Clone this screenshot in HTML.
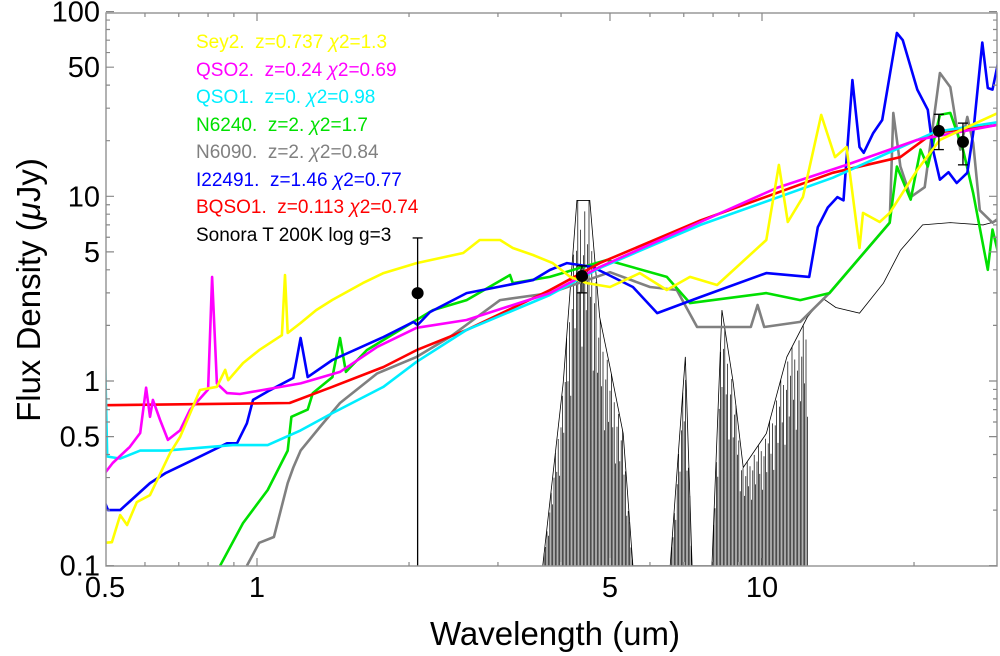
<!DOCTYPE html>
<html><head><meta charset="utf-8"><style>
body{margin:0;background:#fff;}
svg{display:block;font-family:"Liberation Sans",sans-serif;}
</style></head><body>
<svg id="chart" width="1000" height="656"></svg>
<script>
const xTicks=[0.5,1,5,10];
const yTicks=[0.1,0.5,1,5,10,50,100];
const seyLam=[0.5,0.516,0.536,0.553,0.578,0.614,0.673,0.704,0.771,0.833,0.865,0.877,0.938,1.01,1.12,1.136,1.15,1.22,1.31,1.41,1.62,1.78,2.07,2.56,2.76,3.03,3.21,3.52,3.85,4.17,4.5,5.0,5.73,6.48,7.2,8.15,10.2,10.8,11.25,12.05,13.1,13.95,14.7,15.6,15.85,17.1,17.9,20.3,22.5,25.5,29.6];
const seyFlux=[0.133,0.134,0.188,0.166,0.221,0.241,0.407,0.497,0.894,0.93,1.15,1.01,1.25,1.47,1.77,3.75,1.82,2.06,2.42,2.75,3.39,3.84,4.35,4.93,5.8,5.8,5.25,4.81,4.35,3.66,3.39,3.23,3.84,3.11,3.66,3.31,5.8,14.8,7.26,9.9,27.6,16.3,18.5,5.25,8.13,7.26,8.13,13.9,20.2,23.7,28.6];
const qso2Lam=[0.5,0.518,0.56,0.587,0.603,0.614,0.622,0.643,0.666,0.704,0.737,0.8,0.815,0.833,0.872,0.925,1.22,1.46,1.73,2.07,2.6,3.8,4.77,7.55,10.7,14.7,20.3,29.6];
const qso2Flux=[0.318,0.36,0.44,0.523,0.92,0.64,0.79,0.615,0.48,0.54,0.70,0.9,3.66,0.97,0.86,0.85,0.97,1.12,1.53,1.94,2.14,2.99,4.14,7.26,11.1,14.8,20.2,24.5];
const bqsoLam=[0.5,1.16,1.41,1.78,2.07,2.6,3.8,4.77,7.55,13.8,18.8,21.8,29.6];
const bqsoFlux=[0.74,0.76,0.93,1.19,1.47,1.89,3.1,4.35,7.4,13.4,16.3,22,24.4];
const qso1Lam=[0.5,0.505,0.536,0.587,0.66,0.896,1.05,1.22,1.41,1.78,2.07,2.6,3.8,4.77,7.55,13.8,22,29.6];
const qso1Flux=[1.38,0.39,0.38,0.42,0.42,0.45,0.45,0.54,0.67,0.93,1.27,1.89,2.92,4.09,7.0,12.6,22.3,25.3];
const iLam=[0.5,0.507,0.536,0.614,0.66,0.747,0.872,0.913,0.955,0.982,1.06,1.18,1.22,1.26,1.41,1.78,2.04,2.08,2.2,2.6,3.52,3.8,4.11,4.62,5.55,6.2,7.55,10.2,12.4,12.9,13.5,14.1,14.5,15.1,15.6,15.9,16.6,17.3,18.5,19.0,20.3,21.3,21.8,22.5,23.4,24.3,25.5,26.2,27.3,28.0,28.6,29.6];
const iFlux=[0.219,0.20,0.20,0.28,0.318,0.374,0.46,0.46,0.59,0.79,0.89,1.04,1.71,1.05,1.30,1.73,2.09,2.01,2.36,2.99,3.52,3.99,4.35,4.14,3.23,2.33,2.85,3.84,3.66,6.8,8.7,9.9,9.5,42.6,18.5,17.2,22.0,25.9,76.6,70,37.8,29.4,17.9,12.3,13.5,11.8,13.4,22.0,68,38.6,37.8,59.5];
const n6240Lam=[0.845,0.938,1.05,1.15,1.17,1.26,1.29,1.41,1.46,1.5,1.65,1.92,2.23,2.6,3.17,3.21,3.8,4.42,4.93,6.48,7.2,10.2,11.9,13.6,17.9,18.5,19.7,20.6,21.3,22.5,23.6,25.0,26.2,28.0,28.6,29.6];
const n6240Flux=[0.1,0.17,0.257,0.42,0.64,0.70,0.86,1.05,1.71,1.12,1.47,1.89,2.42,2.74,3.75,3.39,3.66,4.14,4.52,3.66,2.64,2.99,2.74,2.99,7.2,14.5,9.6,17.9,14.5,27.6,28.3,17.9,10.4,4.0,6.6,4.5];
const n6090Lam=[0.955,1.01,1.08,1.15,1.18,1.22,1.33,1.46,1.73,2.07,2.41,3.03,3.8,5.0,6.0,6.78,7.44,9.5,9.8,10.1,11.9,13.6,17.9,18.2,18.8,19.7,21.0,22.5,23.6,24.7,25.5,26.2,27.0,28.6,29.6];
const n6090Flux=[0.1,0.133,0.143,0.28,0.34,0.42,0.56,0.76,1.10,1.35,1.73,2.74,2.99,3.88,3.23,3.11,1.96,1.96,2.58,1.96,2.09,2.99,7.2,28.3,14.5,9.9,11.2,46.5,39.0,17.9,26.9,19.4,8.4,7.2,7.7];
const sonLam=[3.68,4.04,4.3,4.56,4.77,5.0,5.31,5.55,6.58,7.05,7.27,7.96,8.33,8.77,9.18,10.2,11.2,12.3,13.2,14.0,15.6,17.4,18.8,20.8,23.6,27.4,29.6];
const sonFlux=[0.1,0.98,9.5,9.5,2.22,1.19,0.52,0.1,0.1,1.35,0.1,0.1,2.42,0.98,0.34,0.52,1.35,2.22,2.8,2.5,2.33,3.39,5.1,7.0,7.2,7.0,7.4];
const ptLam=[2.08,4.4,22.4,25.0];
const ptFlux=[2.99,3.7,22.6,19.7];
const ptHi=[5.95,4.2,27.8,24.9];
const ptLo=[0.05,3.0,17.9,14.8];

const NS='http://www.w3.org/2000/svg';
const svg=document.getElementById('chart');
const L=106,R=997,T=13,B=566;
const X=v=>257+505*Math.log10(v);
const Y=v=>381-184.7*Math.log10(v);
function mk(tag,attrs,parent){const e=document.createElementNS(NS,tag);for(const k in attrs)e.setAttribute(k,attrs[k]);(parent||svg).appendChild(e);return e;}
const defs=mk('defs',{});
const cp=mk('clipPath',{id:'clip'},defs);mk('rect',{x:L,y:T,width:R-L,height:B-T},cp);
const plot=mk('g',{'clip-path':'url(#clip)'});



const sg=mk('g',{},plot);


const sp=sonLam.map((l,i)=>[X(l),Y(sonFlux[i])]);
function envY(px){for(let i=0;i<sp.length-1;i++){if(px>=sp[i][0]&&px<=sp[i+1][0]){const t=(px-sp[i][0])/(sp[i+1][0]-sp[i][0]);return sp[i][1]+t*(sp[i+1][1]-sp[i][1]);}}return null;}
let d='';let k=0;
const fr=[0,0.25,0.08,0.4,0.15,0.03,0.3,0.12];
for(let px=sp[0][0];px<=X(12.3);px+=1.4){const ey=envY(px);if(ey===null||ey>=B-1)continue;const top=ey+(B-ey)*fr[k%fr.length];d+=`M${px.toFixed(1)} ${B} L${px.toFixed(1)} ${top.toFixed(1)} `;k++;}
mk('path',{d:d,stroke:'#000','stroke-width':0.7,fill:'none'},sg);
mk('polyline',{points:sp.map(p=>p.join(',')).join(' '),fill:'none',stroke:'#000','stroke-width':0.8},sg);

const series=[
['series-n6090',n6090Lam,n6090Flux,'#808080'],
['series-n6240',n6240Lam,n6240Flux,'#00e000'],
['series-i22491',iLam,iFlux,'#0000ff'],
['series-bqso1',bqsoLam,bqsoFlux,'#ff0000'],
['series-qso1',qso1Lam,qso1Flux,'#00eeff'],
['series-qso2',qso2Lam,qso2Flux,'#ff00ff'],
['series-sey2',seyLam,seyFlux,'#ffff00']];
series.forEach(s=>{
 const pl=mk('polyline',{points:s[1].map((l,i)=>X(l).toFixed(1)+','+Y(s[2][i]).toFixed(1)).join(' '),fill:'none',stroke:s[3],'stroke-width':2.6,'stroke-linejoin':'round'},plot);
 
 
});
ptLam.forEach((l,i)=>{
 const g=mk('g',{},plot);
 
 
 const x=X(l);
 mk('line',{x1:x,x2:x,y1:Y(ptHi[i]),y2:Y(ptLo[i]),stroke:'#000','stroke-width':1.3},g);
 mk('line',{x1:x-5,x2:x+5,y1:Y(ptHi[i]),y2:Y(ptHi[i]),stroke:'#000','stroke-width':1.3},g);
 mk('line',{x1:x-5,x2:x+5,y1:Y(ptLo[i]),y2:Y(ptLo[i]),stroke:'#000','stroke-width':1.3},g);
 mk('circle',{cx:x,cy:Y(ptFlux[i]),r:6,fill:'#000'},g);
});

const frame=mk('rect',{x:L,y:T,width:R-L,height:B-T,fill:'none',stroke:'#999','stroke-width':1.5});


let td='';
for(let e=-1;e<=1;e++)for(let m=1;m<10;m++){const v=m*Math.pow(10,e);const x=X(v);if(x<L||x>R)continue;const len=(m===1||m===5)?8:4;td+=`M${x} ${B}v${-len}M${x} ${T}v${len}`;}
for(let e=-1;e<2;e++)for(let m=1;m<10;m++){const v=m*Math.pow(10,e);const y=Y(v);const len=(m===1||m===5)?8:4;td+=`M${L} ${y}h${len}M${R} ${y}h${-len}`;}
td+=`M${L} ${Y(100)}h8M${R} ${Y(100)}h-8`;
mk('path',{d:td,stroke:'#888','stroke-width':1.2,fill:'none'});
xTicks.forEach(v=>{const t=mk('text',{x:X(v),y:597,'font-size':29,'text-anchor':'middle'});t.textContent=String(v);
 
 });
yTicks.forEach(v=>{const t=mk('text',{x:100,y:Y(v)+10,'font-size':29,'text-anchor':'end'});t.textContent=String(v);
 
 });
const xt=mk('text',{x:555,y:645,'font-size':33,'text-anchor':'middle'});xt.textContent='Wavelength (um)';


const yt=mk('text',{x:0,y:0,'font-size':33,'text-anchor':'middle',transform:'translate(40,290) rotate(-90)'});
yt.innerHTML='Flux Density (<tspan font-style="italic">μ</tspan>Jy)';


</script>
<svg style="position:absolute;left:0;top:0" width="1000" height="656" font-family="Liberation Sans, sans-serif" font-size="19">
<text x="196" y="48" fill="#ffff00">Sey2.&#160; z=0.737 <tspan font-style="italic">χ</tspan>2=1.3</text>
<text x="196" y="76" fill="#ff00ff">QSO2.&#160; z=0.24 <tspan font-style="italic">χ</tspan>2=0.69</text>
<text x="196" y="103" fill="#00eeff">QSO1.&#160; z=0. <tspan font-style="italic">χ</tspan>2=0.98</text>
<text x="196" y="131" fill="#00e000">N6240.&#160; z=2. <tspan font-style="italic">χ</tspan>2=1.7</text>
<text x="196" y="158" fill="#808080">N6090.&#160; z=2. <tspan font-style="italic">χ</tspan>2=0.84</text>
<text x="196" y="186" fill="#0000ff">I22491.&#160; z=1.46 <tspan font-style="italic">χ</tspan>2=0.77</text>
<text x="196" y="213" fill="#ff0000">BQSO1.&#160; z=0.113 <tspan font-style="italic">χ</tspan>2=0.74</text>
<text x="196" y="241" fill="#000">Sonora T 200K log g=3</text>
</svg>
</body></html>
